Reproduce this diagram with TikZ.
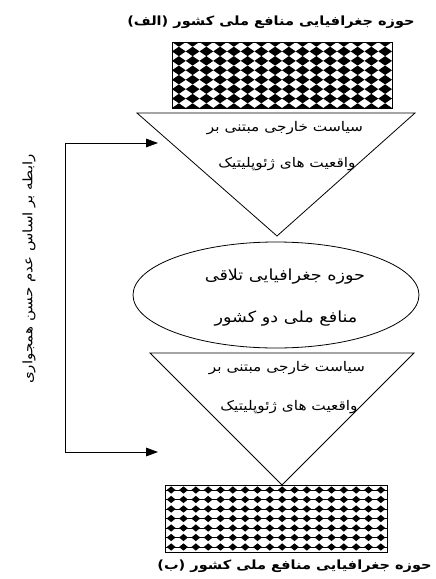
\documentclass[tikz,border=0pt]{standalone}
\usepackage{fontspec}
\newfontfamily\fa[Script=Arabic,FakeStretch=1.15]{DejaVu Sans}
\TeXXeTstate=1
\usetikzlibrary{arrows.meta,shapes.geometric}
\begin{document}
\begin{tikzpicture}[x=0.75pt,y=-0.75pt,
  shapeline/.style={draw=black,line width=0.6pt},
  txt/.style={inner sep=0pt,font=\fa\fontsize{10}{12}\selectfont},
  etxt/.style={inner sep=0pt,font=\fa\fontsize{11.5}{13}\selectfont},
  ttl/.style={inner sep=0pt,font=\fa\bfseries\fontsize{9.5}{11}\selectfont},
  side/.style={inner sep=0pt,rotate=90,font=\fa\fontsize{9.8}{12}\selectfont},
  loop/.style={draw=black,line width=0.6pt,{Triangle[length=9pt,width=6.5pt]}-{Triangle[length=9pt,width=6.5pt]}},
  patbox/.style={draw=black,line width=0.6pt,inner sep=0pt}
]
\useasboundingbox (0,0) rectangle (436,579);

% titles
\node[ttl,anchor=west] (titleA) at (127,22) {\beginR حوزه جغرافیایی منافع ملی کشور (الف)\endR};
\node[ttl,anchor=east] (titleB) at (432,566) {\beginR حوزه جغرافیایی منافع ملی کشور (ب)\endR};

% top patterned rectangle
\begin{scope}
\clip (172,42) rectangle (392,108);
\foreach \i in {0,...,15} \foreach \j in {0,...,7} {
  \fill ({172+13.75*(\i+0.5)},{42+9.43*\j}) +(-6.875,0) -- +(0,-4.715) -- +(6.875,0) -- +(0,4.715) -- cycle;
}
\end{scope}
\node[patbox,minimum width=165pt,minimum height=49.5pt] (boxA) at (282,75) {};

% bottom patterned rectangle
\begin{scope}
\clip (165,485) rectangle (387,552);
\foreach \j in {0,...,6} {
  \fill (165,{490+9.5*\j-0.45}) rectangle (387,{490+9.5*\j+0.45});
  \foreach \i in {0,...,17} {
    \fill ({165+12.333*(\i+0.5)},{490+9.5*\j}) +(-4.4,0) -- +(0,-3.6) -- +(4.4,0) -- +(0,3.6) -- cycle;
  }
}
\end{scope}
\node[patbox,minimum width=166.5pt,minimum height=50.25pt] (boxB) at (276,518.5) {};

% top triangle
\coordinate (t1a) at (137,113);
\coordinate (t1b) at (415,113);
\coordinate (t1c) at (277,236);
\draw[shapeline] (t1a) -- (t1b) -- (t1c) -- cycle;
\node[txt] (t1l1) at (285,128) {\beginR سیاست خارجی مبتنی بر\endR};
\node[txt] (t1l2) at (287,164) {\beginR واقعیت های ژئوپلیتیک\endR};

% ellipse
\node[shapeline,ellipse,inner sep=0pt,minimum width=214.5pt,minimum height=79.5pt] (ell) at (276,295) {};
\node[etxt] (e1) at (285,277) {\beginR حوزه جغرافیایی تلاقی\endR};
\node[etxt] (e2) at (286,319) {\beginR منافع ملی دو کشور\endR};

% bottom triangle
\coordinate (t2a) at (150,353);
\coordinate (t2b) at (414,353);
\coordinate (t2c) at (282,485);
\draw[shapeline] (t2a) -- (t2b) -- (t2c) -- cycle;
\node[txt] (t2l1) at (287,368) {\beginR سیاست خارجی مبتنی بر\endR};
\node[txt] (t2l2) at (289,407) {\beginR واقعیت های ژئوپلیتیک\endR};

% loop connector
\coordinate (arrA) at (158,143);
\coordinate (cornA) at (65,143);
\coordinate (cornB) at (65,452);
\coordinate (arrB) at (158,452);
\draw[loop] (arrA) -- (cornA) -- (cornB) -- (arrB);

% side label
\node[side] (sidelbl) at (29,269) {\beginR رابطه بر اساس عدم حسن همجواری\endR};
\end{tikzpicture}
\end{document}
